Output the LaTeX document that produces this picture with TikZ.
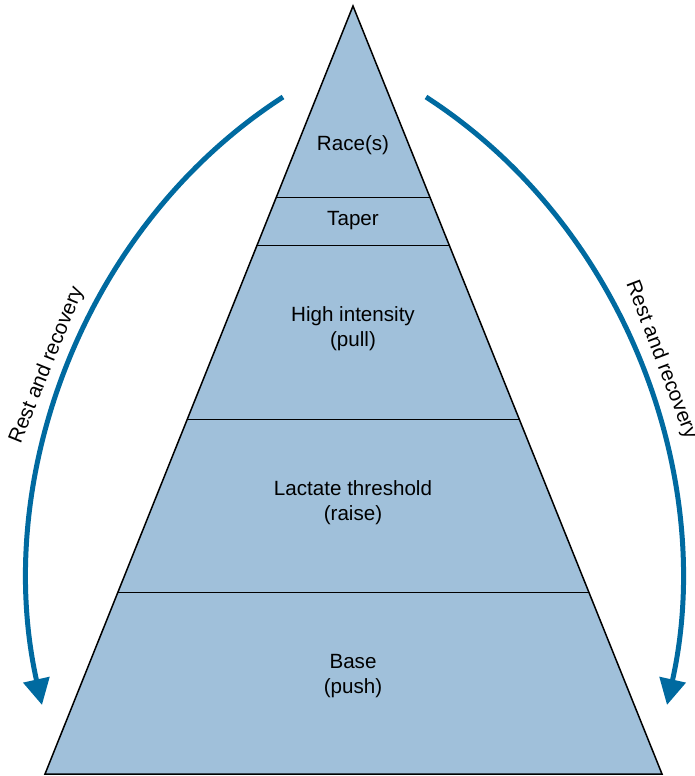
\documentclass[tikz,border=0pt]{standalone}
\usepackage{fontspec}
\setmainfont{Liberation Sans}
\usetikzlibrary{arrows.meta, calc}
\definecolor{pyrfill}{RGB}{160,192,218}
\definecolor{arcblue}{RGB}{0,106,160}

\begin{document}
\begin{tikzpicture}[x=0.5pt, y=-0.5pt,
    layer/.style={align=center, font=\fontsize{10.3}{12.6}\selectfont},
    divider/.style={draw=black, line width=0.5pt},
    recovery/.style={draw=arcblue, line width=2.5pt, -{Triangle[width=13pt, length=13pt]}},
    sidelabel/.style={font=\fontsize{10.3}{12.6}\selectfont}
]
    \useasboundingbox (0,0) rectangle (695,776);

    % Pyramid corners
    \coordinate (apex) at (353,6);
    \coordinate (bl) at (45,774);
    \coordinate (br) at (662,774);
    \fill[pyrfill] (apex) -- (bl) -- (br) -- cycle;

    % Layer dividers
    \draw[divider] ($(apex)!0.2487!(bl)$) -- ($(apex)!0.2487!(br)$);
    \draw[divider] ($(apex)!0.3112!(bl)$) -- ($(apex)!0.3112!(br)$);
    \draw[divider] ($(apex)!0.5378!(bl)$) -- ($(apex)!0.5378!(br)$);
    \draw[divider] ($(apex)!0.7643!(bl)$) -- ($(apex)!0.7643!(br)$);
    \draw[line width=0.75pt] (apex) -- (bl) -- (br) -- cycle;

    % Layer labels
    \node[layer] (races) at (353,145) {Race(s)};
    \node[layer] (taper) at (353,221) {Taper};
    \node[layer] (high) at (353,329) {High intensity\\(pull)};
    \node[layer] (lactate) at (353,503) {Lactate threshold\\(raise)};
    \node[layer] (base) at (353,676) {Base\\(push)};

    % Rest and recovery arcs
    \coordinate (lstart) at (283,97);
    \coordinate (lc1) at (82,227);
    \coordinate (lc2) at (-8,480);
    \coordinate (lend) at (42,705);
    \coordinate (rstart) at (426,97);
    \coordinate (rc1) at (627,227);
    \coordinate (rc2) at (717,480);
    \coordinate (rend) at (667,705);
    \draw[recovery] (lstart) .. controls (lc1) and (lc2) .. (lend);
    \draw[recovery] (rstart) .. controls (rc1) and (rc2) .. (rend);
    \node[sidelabel, rotate=68] (lrest) at (47,365) {Rest and recovery};
    \node[sidelabel, rotate=-69] (rrest) at (661,360) {Rest and recovery};
\end{tikzpicture}
\end{document}
